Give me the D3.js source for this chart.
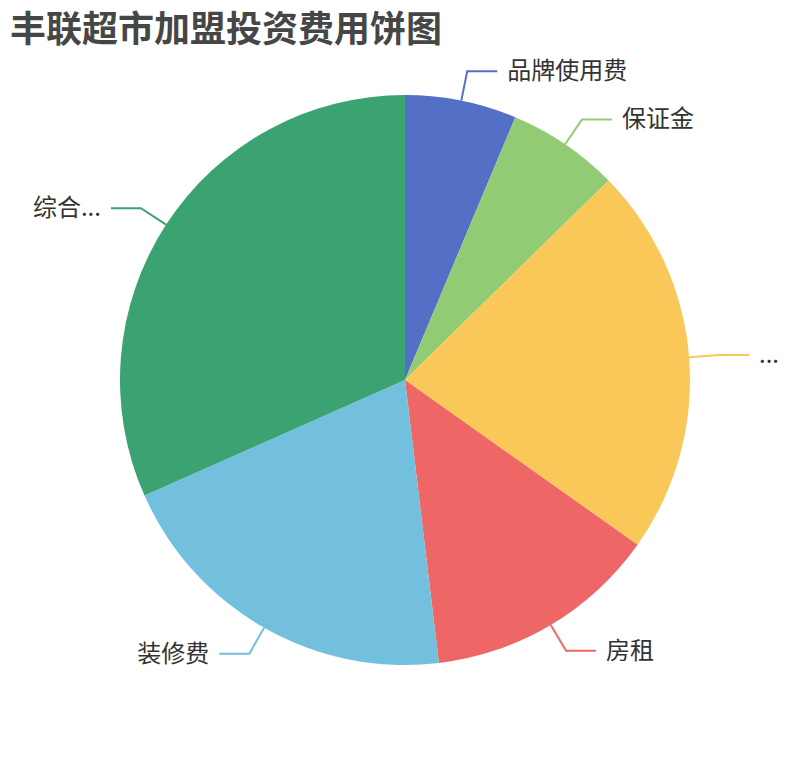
<!DOCTYPE html>
<html>
<head>
<meta charset="utf-8">
<script src="https://cdn.jsdelivr.net/npm/d3@7"></script>
<style>
  html, body { margin: 0; padding: 0; background: #fff; }
  svg { display: block; }
</style>
</head>
<body>
<svg id="chart" width="810" height="760"></svg>
<script>
const titleText = "丰联超市加盟投资费用饼图";
const categories = ["品牌使用费", "保证金", "...", "房租", "装修费", "综合..."];
const values = [10, 10, 35, 21, 32, 50];
const colors = ["#5470c6", "#91cc75", "#fac858", "#ee6666", "#73c0de", "#3ba272"];

const W = 810, H = 760;
const cx = W / 2, cy = H / 2;
const R = Math.min(W, H) / 2 * 0.75;
const len1 = 30, len2 = 30, gap = 10;
const font = "'Noto Sans CJK SC', 'Noto Sans', sans-serif";

const svg = d3.select("#chart");

svg.append("text")
  .attr("x", 10).attr("y", 42)
  .attr("font-family", font)
  .attr("font-size", 36)
  .attr("font-weight", "bold")
  .attr("fill", "#464646")
  .text(titleText);

const data = categories.map((c, i) => ({ name: c, value: values[i], color: colors[i] }));
const pie = d3.pie().sort(null).value(d => d.value);
const arcs = pie(data);
const arc = d3.arc().innerRadius(0).outerRadius(R);

const g = svg.append("g").attr("transform", `translate(${cx},${cy})`);

g.selectAll("path.slice").data(arcs).join("path")
  .attr("class", "slice")
  .attr("d", arc)
  .attr("fill", d => d.data.color);

function pts(d) {
  const m = (d.startAngle + d.endAngle) / 2;
  const s = Math.sin(m), c = -Math.cos(m);
  const p0 = [R * s, R * c];
  const p1 = [(R + len1) * s, (R + len1) * c];
  const dir = s >= 0 ? 1 : -1;
  const p2 = [p1[0] + dir * len2, p1[1]];
  return { p0, p1, p2, dir };
}

g.selectAll("polyline.line").data(arcs).join("polyline")
  .attr("class", "line")
  .attr("points", d => { const p = pts(d); return [p.p0, p.p1, p.p2].map(q => q.join(",")).join(" "); })
  .attr("fill", "none")
  .attr("stroke", d => d.data.color)
  .attr("stroke-width", 2);

g.selectAll("text.label").data(arcs).join("text")
  .attr("class", "label")
  .attr("x", d => { const p = pts(d); return p.p2[0] + p.dir * gap; })
  .attr("y", d => pts(d).p2[1] + 8)
  .attr("text-anchor", d => pts(d).dir > 0 ? "start" : "end")
  .attr("font-family", font)
  .attr("font-size", 24)
  .attr("fill", "#333")
  .text(d => d.data.name);
</script>
</body>
</html>
